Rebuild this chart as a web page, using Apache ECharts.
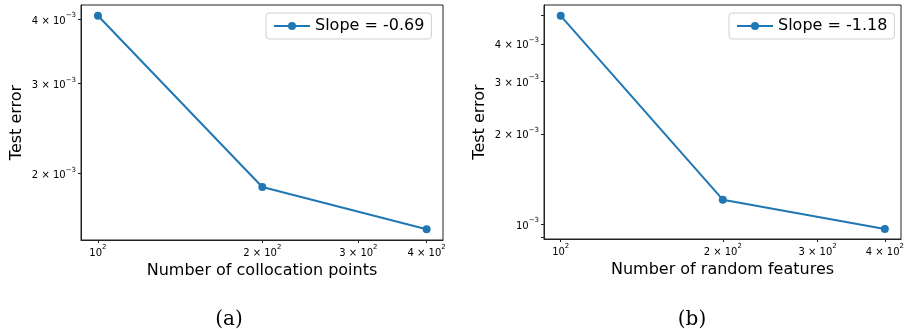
<!DOCTYPE html>
<html>
<head>
<meta charset="utf-8">
<script src="https://cdn.jsdelivr.net/npm/echarts@6/dist/echarts.min.js"></script>
<style>
  html, body { margin: 0; padding: 0; background: #fff; }
  #chart { width: 907px; height: 329px; }
</style>
</head>
<body>
<div id="chart"></div>
<script>
// data
const xValues = [100, 200, 400];
const errCollocation = [4.06e-3, 1.884e-3, 1.559e-3];
const errFeatures = [4.96e-3, 1.206e-3, 9.62e-4];
const slopeNames = ['Slope = -0.69', 'Slope = -1.18'];
const xTicks = [100, 200, 300, 400];
const yTicksA = [2e-3, 3e-3, 4e-3];
const yTickMarksB = [9e-4, 1e-3, 2e-3, 3e-3, 4e-3, 5e-3];
const yLabelsB = [1e-3, 2e-3, 3e-3, 4e-3];
const xNames = ['Number of collocation points', 'Number of random features'];
const captions = ['(a)', '(b)'];

const BLUE = '#1f77b4';
const FONT = 'DejaVu Sans';

function sciLabel(v) {
  const e = Math.floor(Math.log10(v) + 1e-9);
  const m = Math.round(v / Math.pow(10, e));
  const ex = e < 0 ? '\u2212' + (-e) : String(e);
  if (m === 1) return '{b|10}{s|' + ex + '}';
  return '{b|' + m + ' \u00d7 10}{s|' + ex + '}';
}

const tickRich = {
  b: { fontSize: 10, fontFamily: FONT, color: '#000', lineHeight: 14, verticalAlign: 'bottom' },
  s: { fontSize: 7, fontFamily: FONT, color: '#000', lineHeight: 14, verticalAlign: 'top', padding: [0, 0, 6, 0] }
};

const grids = [
  { left: 81, top: 5, width: 362, height: 235 },
  { left: 544, top: 5, width: 362, height: 234 }
];

function xAxisFor(i) {
  return {
    type: 'log', gridIndex: i, min: 93.1, max: 428.6,
    name: xNames[i], nameLocation: 'middle', nameGap: 22,
    nameTextStyle: { fontSize: 16, fontFamily: FONT, color: '#000' },
    axisLine: { show: true, lineStyle: { color: '#222', width: 1 } },
    axisTick: { show: true, length: 3, customValues: xTicks, lineStyle: { color: '#222' } },
    axisLabel: { customValues: xTicks, margin: 4, formatter: sciLabel, rich: tickRich },
    splitLine: { show: false }, minorTick: { show: false }
  };
}

function yAxisFor(i, min, max, tickVals, labelVals) {
  return {
    type: 'log', gridIndex: i, min: min, max: max,
    name: 'Test error', nameLocation: 'middle', nameGap: 56,
    nameTextStyle: { fontSize: 16, fontFamily: FONT, color: '#000' },
    axisLine: { show: true, lineStyle: { color: '#222', width: 1 } },
    axisTick: { show: true, length: 3, customValues: tickVals, lineStyle: { color: '#222' } },
    axisLabel: { customValues: labelVals, margin: 5, formatter: sciLabel, rich: tickRich },
    splitLine: { show: false }, minorTick: { show: false }
  };
}

function seriesFor(i, ys) {
  return {
    type: 'line', name: slopeNames[i], xAxisIndex: i, yAxisIndex: i,
    data: xValues.map((x, k) => [x, ys[k]]),
    symbol: 'circle', symbolSize: 8, showSymbol: true,
    lineStyle: { color: BLUE, width: 2 },
    itemStyle: { color: BLUE },
    animation: false
  };
}

function legendFor(i, left) {
  return {
    data: [slopeNames[i]], left: left, top: 13,
    padding: [5, 7], itemWidth: 36, itemHeight: 10, itemGap: 10,
    borderColor: '#d0d0d0', borderWidth: 1, borderRadius: 3, backgroundColor: '#fff',
    textStyle: { fontSize: 16, fontFamily: FONT, color: '#000' }
  };
}

const chart = echarts.init(document.getElementById('chart'), null, { renderer: 'canvas' });
chart.setOption({
  backgroundColor: '#fff',
  animation: false,
  grid: grids.map(g => Object.assign({ show: true, borderColor: '#222', borderWidth: 1, backgroundColor: 'transparent' }, g)),
  xAxis: [xAxisFor(0), xAxisFor(1)],
  yAxis: [
    yAxisFor(0, 1.486e-3, 4.26e-3, yTicksA, yTicksA),
    yAxisFor(1, 8.91e-4, 5.39e-3, yTickMarksB, yLabelsB)
  ],
  legend: [legendFor(0, 266), legendFor(1, 729)],
  title: [
    { text: captions[0], left: 224, top: 305, textAlign: 'center',
      textStyle: { fontSize: 20, fontWeight: 'normal', fontFamily: 'DejaVu Serif', color: '#000' } },
    { text: captions[1], left: 687, top: 305, textAlign: 'center',
      textStyle: { fontSize: 20, fontWeight: 'normal', fontFamily: 'DejaVu Serif', color: '#000' } }
  ],
  series: [seriesFor(0, errCollocation), seriesFor(1, errFeatures)]
});
</script>
</body>
</html>
